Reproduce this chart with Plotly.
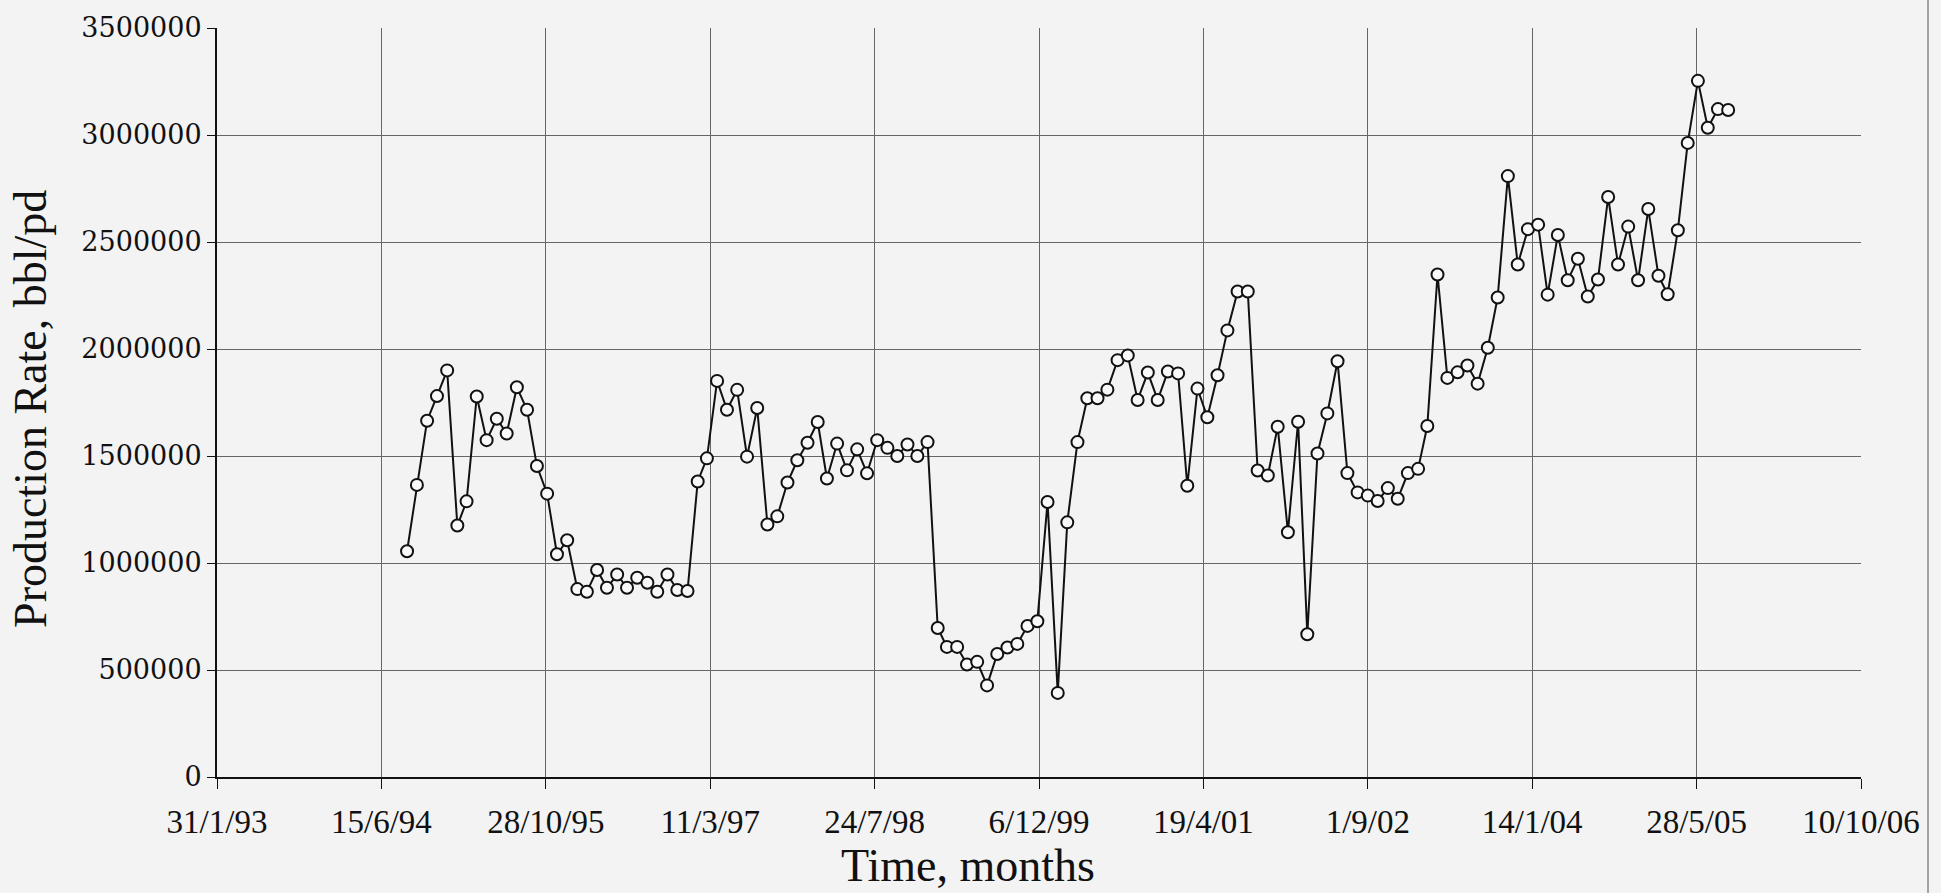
import pandas as pd
import plotly.graph_objects as go

# Monthly production rate, bbl/pd, starting September 1994
first_month = "1994-09-01"
production_rate = [
    1055000, 1365000, 1665000, 1780000, 1900000, 1175000, 1288000, 1778000, 1574000, 1674000,
    1605000, 1821000, 1716000, 1453000, 1324000, 1041000, 1106000, 878000, 866000, 967000,
    884000, 946000, 884000, 931000, 908000, 866000, 946000, 874000, 869000, 1381000,
    1489000, 1851000, 1716000, 1809000, 1497000, 1724000, 1180000, 1218000, 1376000, 1480000,
    1562000, 1659000, 1395000, 1558000, 1433000, 1531000, 1419000, 1574000, 1538000, 1500000,
    1554000, 1500000, 1565000, 696000, 608000, 608000, 526000, 538000, 428000, 575000,
    605000, 622000, 706000, 728000, 1285000, 393000, 1190000, 1565000, 1770000, 1770000,
    1810000, 1948000, 1970000, 1762000, 1890000, 1762000, 1895000, 1886000, 1361000, 1815000,
    1681000, 1877000, 2087000, 2269000, 2269000, 1432000, 1409000, 1637000, 1144000, 1660000,
    667000, 1512000, 1699000, 1943000, 1420000, 1330000, 1315000, 1290000, 1350000, 1300000,
    1420000, 1440000, 1640000, 2348000, 1865000, 1891000, 1923000, 1838000, 2006000, 2241000,
    2808000, 2395000, 2560000, 2581000, 2254000, 2533000, 2321000, 2422000, 2245000, 2325000,
    2710000, 2395000, 2572000, 2321000, 2654000, 2342000, 2256000, 2555000, 2963000, 3253000,
    3034000, 3121000, 3117000,
]
months = pd.date_range(first_month, periods=len(production_rate), freq="MS")

# Axis ticks
x_tick_labels = ["31/1/93", "15/6/94", "28/10/95", "11/3/97", "24/7/98", "6/12/99",
                 "19/4/01", "1/9/02", "14/1/04", "28/5/05", "10/10/06"]
x_tick_dates = pd.to_datetime(x_tick_labels, format="%d/%m/%y")
y_tick_values = [0, 500000, 1000000, 1500000, 2000000, 2500000, 3000000, 3500000]

W, H = 1941, 893
L, R, T, B = 217, 80, 22, 116
plot_w, plot_h = W - L - R, H - T - B


def px_to_paper(px, py):
    return (px - L) / plot_w, (H - B - py) / plot_h


bg = "#f3f3f3"
ink = "#111111"

fig = go.Figure()
fig.add_trace(go.Scatter(
    x=months,
    y=production_rate,
    mode="lines+markers",
    line=dict(color=ink, width=2),
    marker=dict(symbol="circle", size=12, color="#f8f8f8",
                line=dict(color=ink, width=2)),
    showlegend=False,
    hoverinfo="x+y",
))

fig.update_xaxes(
    type="date",
    range=[x_tick_dates[0], x_tick_dates[-1]],
    tickmode="array",
    tickvals=x_tick_dates,
    ticktext=x_tick_labels,
    tickfont=dict(family="Liberation Serif", size=33, color=ink),
    ticks="outside", ticklen=10, tickwidth=1, tickcolor=ink,
    ticklabelstandoff=4,
    showgrid=True, gridcolor="#666666", gridwidth=1,
    showline=True, linecolor=ink, linewidth=2,
    zeroline=False,
)
fig.update_yaxes(
    range=[0, 3500000],
    tickmode="array",
    tickvals=y_tick_values,
    ticktext=[str(v) for v in y_tick_values],
    tickfont=dict(family="DejaVu Serif", size=27, color=ink),
    ticks="outside", ticklen=8, tickwidth=1, tickcolor=ink,
    ticklabelstandoff=0,
    showgrid=True, gridcolor="#666666", gridwidth=1,
    showline=True, linecolor=ink, linewidth=2,
    zeroline=False,
)

yt_x, yt_y = px_to_paper(31, 406)
xt_x, xt_y = px_to_paper(968, 866)
edge_x, _ = px_to_paper(1928, 0)

fig.update_layout(
    width=W, height=H,
    margin=dict(l=L, r=R, t=T, b=B, pad=0),
    paper_bgcolor=bg, plot_bgcolor=bg,
    annotations=[
        dict(text="Time, months", x=xt_x, y=xt_y, xref="paper", yref="paper",
             showarrow=False, xanchor="center", yanchor="middle",
             font=dict(family="Liberation Serif", size=46, color=ink)),
        dict(text="Production Rate, bbl/pd", x=yt_x, y=yt_y, xref="paper", yref="paper",
             textangle=-90, showarrow=False, xanchor="center", yanchor="middle",
             font=dict(family="Liberation Serif", size=46, color=ink)),
    ],
    shapes=[
        dict(type="line", xref="paper", yref="paper", x0=edge_x, x1=edge_x,
             y0=-0.2, y1=1.1, line=dict(color="#555555", width=1)),
    ],
)

fig.write_html("out.html")
